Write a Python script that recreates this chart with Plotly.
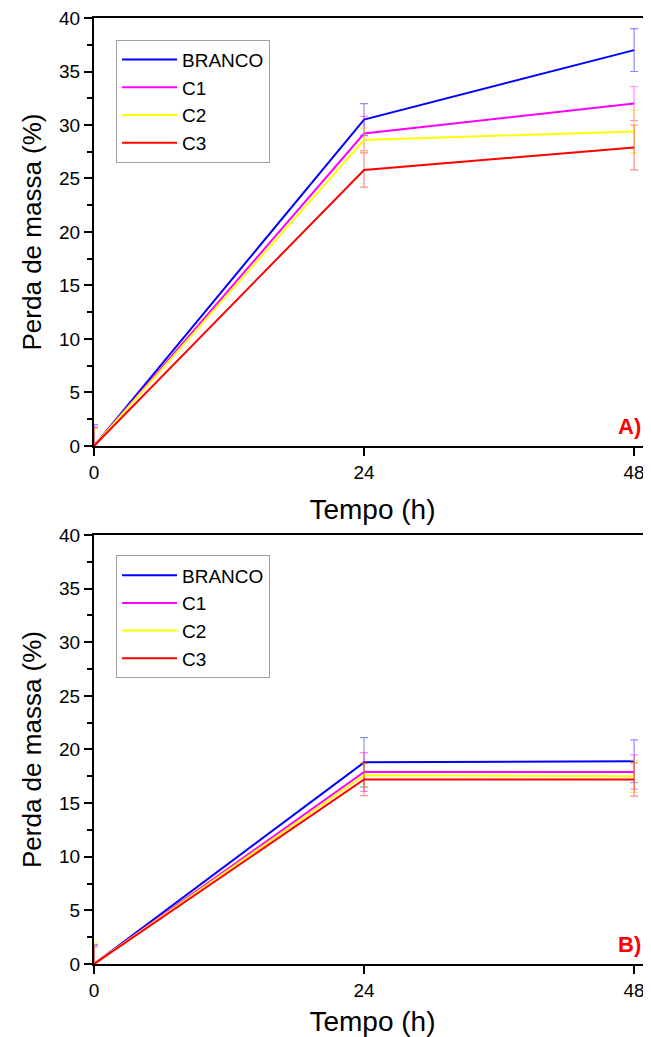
import plotly.graph_objects as go
from plotly.subplots import make_subplots

tempo = [0, 24, 48]
series = ["BRANCO", "C1", "C2", "C3"]
colors = ["#0000ff", "#ff00ff", "#ffff00", "#ff0000"]
err_colors = ["rgba(0,0,255,0.45)", "rgba(255,0,255,0.45)", "rgba(230,230,0,0.6)", "rgba(255,0,0,0.45)"]

# Panel A
a_vals = {
    "BRANCO": [0, 30.5, 37.0],
    "C1": [0, 29.2, 32.0],
    "C2": [0, 28.6, 29.4],
    "C3": [0, 25.8, 27.9],
}
a_err = {
    "BRANCO": [2.0, 1.5, 2.0],
    "C1": [1.8, 1.6, 1.6],
    "C2": [1.6, 1.1, 2.0],
    "C3": [1.7, 1.6, 2.1],
}
# Panel B
b_vals = {
    "BRANCO": [0, 18.8, 18.9],
    "C1": [0, 17.9, 17.9],
    "C2": [0, 17.6, 17.5],
    "C3": [0, 17.2, 17.2],
}
b_err = {
    "BRANCO": [1.8, 2.3, 2.0],
    "C1": [1.7, 1.8, 1.6],
    "C2": [2.0, 1.1, 1.5],
    "C3": [1.6, 1.5, 1.55],
}

fig = make_subplots(rows=2, cols=1)

for i, s in enumerate(series):
    fig.add_trace(go.Scatter(
        x=tempo, y=a_vals[s], name=s, mode="lines",
        line=dict(color=colors[i], width=2),
        error_y=dict(type="data", array=a_err[s], color=err_colors[i], thickness=1.2, width=4),
        legend="legend",
    ), row=1, col=1)
for i, s in enumerate(series):
    fig.add_trace(go.Scatter(
        x=tempo, y=b_vals[s], name=s, mode="lines",
        line=dict(color=colors[i], width=2),
        error_y=dict(type="data", array=b_err[s], color=err_colors[i], thickness=1.2, width=4),
        legend="legend2",
    ), row=2, col=1)

font_family = "Liberation Sans, Arial, sans-serif"
xcommon = dict(range=[0, 49.5], tickvals=[0, 24, 48], ticks="outside", ticklen=8, tickwidth=2,
               tickcolor="black", showline=True, linecolor="black", linewidth=2, mirror=True,
               showgrid=False, zeroline=False, automargin=False, ticklabeloverflow="allow",
               tickfont=dict(size=19, color="black", family=font_family),
               title=dict(text="Tempo (h)", font=dict(size=28, color="black", family=font_family), standoff=18))
ycommon = dict(range=[0, 40], dtick=5, ticks="outside", ticklen=8, tickwidth=2, tickcolor="black",
               minor=dict(dtick=2.5, ticks="outside", ticklen=5, tickwidth=1.5, tickcolor="black"),
               showline=True, linecolor="black", linewidth=2, mirror=False,
               showgrid=False, zeroline=False, automargin=False, ticklabeloverflow="allow",
               tickfont=dict(size=19, color="black", family=font_family),
               title=dict(text="Perda de massa (%)", font=dict(size=26, color="black", family=font_family), standoff=10))

fig.update_xaxes(**xcommon)
fig.update_yaxes(**ycommon)
fig.update_layout(
    width=643, height=1029,
    margin=dict(l=86, r=0, t=10, b=73),
    plot_bgcolor="white", paper_bgcolor="white",
    font=dict(family=font_family, color="black"),
    xaxis=dict(domain=[0, 1]),
    yaxis=dict(domain=[0.5476, 1]),
    xaxis2=dict(domain=[0, 1]),
    yaxis2=dict(domain=[0, 0.4535]),
    legend=dict(x=0.0395, y=0.977, xanchor="left", yanchor="top", bgcolor="white",
                bordercolor="#a0a0a0", borderwidth=1, font=dict(size=19, family=font_family),
                tracegroupgap=0, itemwidth=55),
    legend2=dict(x=0.0395, y=0.432, xanchor="left", yanchor="top", bgcolor="white",
                 bordercolor="#a0a0a0", borderwidth=1, font=dict(size=19, family=font_family),
                 tracegroupgap=0, itemwidth=55),
    annotations=[
        dict(text="<b>A)</b>", x=0.985, y=0.5476 + 0.005, xref="paper", yref="paper", xanchor="right",
             yanchor="bottom", showarrow=False, font=dict(size=22, color="#ff0000", family=font_family)),
        dict(text="<b>B)</b>", x=0.985, y=0.005, xref="paper", yref="paper", xanchor="right",
             yanchor="bottom", showarrow=False, font=dict(size=22, color="#ff0000", family=font_family)),
    ],
)

fig.write_html("out.html")
